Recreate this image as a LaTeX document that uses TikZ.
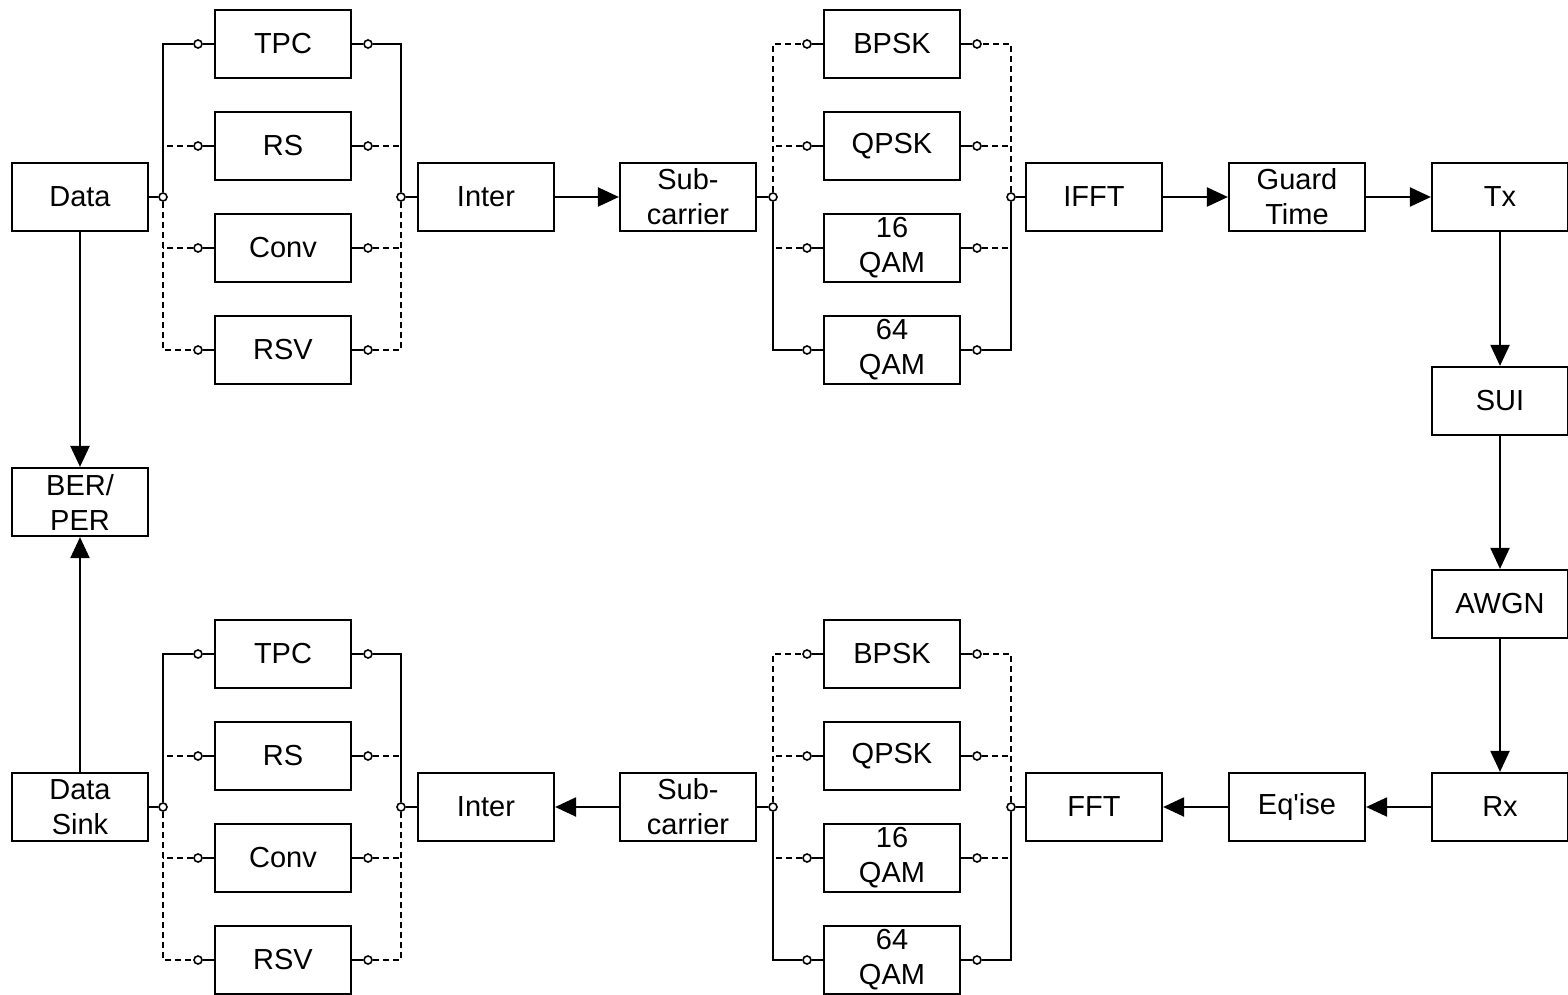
\documentclass[tikz,border=0pt]{standalone}
\usepackage{fontspec}
\setmainfont{Liberation Sans}
\usetikzlibrary{arrows.meta}

\begin{document}
\begin{tikzpicture}[x=1pt, y=-1pt, line width=2.2pt,
    blk/.style={draw, minimum width=136pt, minimum height=68pt, inner sep=0pt,
      align=center, font=\fontsize{29}{35}\selectfont},
    sw/.style={circle, draw, fill=white, line width=1.6pt, minimum size=8pt, inner sep=0pt},
    dsh/.style={dash pattern=on 6pt off 4pt},
    arr/.style={-{Triangle[length=21pt, width=19pt]}}]
  \useasboundingbox (0,0) rectangle (1568,995);

  % Sender
  \node[blk] (Data) at (80,197) {Data};
  \node[blk] (BER) at (80,502) {BER/\\PER};
  \node[blk] (tInter) at (486,197) {Inter};
  \node[blk] (tSub) at (688,197) {Sub-\\carrier};
  \node[blk] (IFFT) at (1094,197) {IFFT};
  \node[blk] (Guard) at (1297,197) {Guard\\Time};
  \node[blk] (Tx) at (1500,197) {Tx};

  % channel
  \node[blk] (SUI) at (1500,401) {SUI};
  \node[blk] (AWGN) at (1500,604) {AWGN};
  \node[blk] (Rx) at (1500,807) {Rx};

  % Receiver
  \node[blk] (Eq) at (1297,807) {Eq\textquotesingle ise};
  \node[blk] (FFT) at (1094,807) {FFT};
  \node[blk] (bSub) at (688,807) {Sub-\\carrier};
  \node[blk] (bInter) at (486,807) {Inter};
  \node[blk] (Sink) at (80,807) {Data\\Sink};

  % Kodierer oben
  \node[blk] (tTPC) at (283,44) {TPC};
  \node[blk] (tRS) at (283,146) {RS};
  \node[blk] (tConv) at (283,248) {Conv};
  \node[blk] (tRSV) at (283,350) {RSV};
  \node[sw] (tjl) at (163,197) {};
  \node[sw] (tjr) at (401,197) {};
  \node[sw] (tTPCl) at (198,44) {};
  \node[sw] (tRSl) at (198,146) {};
  \node[sw] (tConvl) at (198,248) {};
  \node[sw] (tRSVl) at (198,350) {};
  \node[sw] (tTPCr) at (368,44) {};
  \node[sw] (tRSr) at (368,146) {};
  \node[sw] (tConvr) at (368,248) {};
  \node[sw] (tRSVr) at (368,350) {};
  \draw (tTPCl) -- (tTPC) (tRSl) -- (tRS) (tConvl) -- (tConv) (tRSVl) -- (tRSV);
  \draw (tTPCr) -- (tTPC) (tRSr) -- (tRS) (tConvr) -- (tConv) (tRSVr) -- (tRSV);
  \draw (tjl) |- (tTPCl);
  \draw (tjr) |- (tTPCr);
  \draw[dsh] (tjl) |- (tRSVl);
  \draw[dsh] (tjr) |- (tRSVr);
  \draw[dsh] (tRSl) -- (tRSl -| tjl) (tConvl) -- (tConvl -| tjl);
  \draw[dsh] (tRSr) -- (tRSr -| tjr) (tConvr) -- (tConvr -| tjr);

  % Modulation oben
  \node[blk] (tBPSK) at (892,44) {BPSK};
  \node[blk] (tQPSK) at (892,146) {QPSK};
  \node[blk] (tQAMa) at (892,248) {16\\QAM};
  \node[blk] (tQAMb) at (892,350) {64\\QAM};
  \node[sw] (mjl) at (773,197) {};
  \node[sw] (mjr) at (1011,197) {};
  \node[sw] (tBPSKl) at (807,44) {};
  \node[sw] (tQPSKl) at (807,146) {};
  \node[sw] (tQAMal) at (807,248) {};
  \node[sw] (tQAMbl) at (807,350) {};
  \node[sw] (tBPSKr) at (977,44) {};
  \node[sw] (tQPSKr) at (977,146) {};
  \node[sw] (tQAMar) at (977,248) {};
  \node[sw] (tQAMbr) at (977,350) {};
  \draw (tBPSKl) -- (tBPSK) (tQPSKl) -- (tQPSK) (tQAMal) -- (tQAMa) (tQAMbl) -- (tQAMb);
  \draw (tBPSKr) -- (tBPSK) (tQPSKr) -- (tQPSK) (tQAMar) -- (tQAMa) (tQAMbr) -- (tQAMb);
  \draw[dsh] (mjl) |- (tBPSKl);
  \draw[dsh] (mjr) |- (tBPSKr);
  \draw (mjl) |- (tQAMbl);
  \draw (mjr) |- (tQAMbr);
  \draw[dsh] (tQPSKl) -- (tQPSKl -| mjl) (tQAMal) -- (tQAMal -| mjl);
  \draw[dsh] (tQPSKr) -- (tQPSKr -| mjr) (tQAMar) -- (tQAMar -| mjr);

  % Kodierer unten
  \node[blk] (bTPC) at (283,654) {TPC};
  \node[blk] (bRS) at (283,756) {RS};
  \node[blk] (bConv) at (283,858) {Conv};
  \node[blk] (bRSV) at (283,960) {RSV};
  \node[sw] (bjl) at (163,807) {};
  \node[sw] (bjr) at (401,807) {};
  \node[sw] (bTPCl) at (198,654) {};
  \node[sw] (bRSl) at (198,756) {};
  \node[sw] (bConvl) at (198,858) {};
  \node[sw] (bRSVl) at (198,960) {};
  \node[sw] (bTPCr) at (368,654) {};
  \node[sw] (bRSr) at (368,756) {};
  \node[sw] (bConvr) at (368,858) {};
  \node[sw] (bRSVr) at (368,960) {};
  \draw (bTPCl) -- (bTPC) (bRSl) -- (bRS) (bConvl) -- (bConv) (bRSVl) -- (bRSV);
  \draw (bTPCr) -- (bTPC) (bRSr) -- (bRS) (bConvr) -- (bConv) (bRSVr) -- (bRSV);
  \draw (bjl) |- (bTPCl);
  \draw (bjr) |- (bTPCr);
  \draw[dsh] (bjl) |- (bRSVl);
  \draw[dsh] (bjr) |- (bRSVr);
  \draw[dsh] (bRSl) -- (bRSl -| bjl) (bConvl) -- (bConvl -| bjl);
  \draw[dsh] (bRSr) -- (bRSr -| bjr) (bConvr) -- (bConvr -| bjr);

  % Demodulation unten
  \node[blk] (bBPSK) at (892,654) {BPSK};
  \node[blk] (bQPSK) at (892,756) {QPSK};
  \node[blk] (bQAMa) at (892,858) {16\\QAM};
  \node[blk] (bQAMb) at (892,960) {64\\QAM};
  \node[sw] (njl) at (773,807) {};
  \node[sw] (njr) at (1011,807) {};
  \node[sw] (bBPSKl) at (807,654) {};
  \node[sw] (bQPSKl) at (807,756) {};
  \node[sw] (bQAMal) at (807,858) {};
  \node[sw] (bQAMbl) at (807,960) {};
  \node[sw] (bBPSKr) at (977,654) {};
  \node[sw] (bQPSKr) at (977,756) {};
  \node[sw] (bQAMar) at (977,858) {};
  \node[sw] (bQAMbr) at (977,960) {};
  \draw (bBPSKl) -- (bBPSK) (bQPSKl) -- (bQPSK) (bQAMal) -- (bQAMa) (bQAMbl) -- (bQAMb);
  \draw (bBPSKr) -- (bBPSK) (bQPSKr) -- (bQPSK) (bQAMar) -- (bQAMa) (bQAMbr) -- (bQAMb);
  \draw[dsh] (njl) |- (bBPSKl);
  \draw[dsh] (njr) |- (bBPSKr);
  \draw (njl) |- (bQAMbl);
  \draw (njr) |- (bQAMbr);
  \draw[dsh] (bQPSKl) -- (bQPSKl -| njl) (bQAMal) -- (bQAMal -| njl);
  \draw[dsh] (bQPSKr) -- (bQPSKr -| njr) (bQAMar) -- (bQAMar -| njr);

  % Signalweg
  \draw (Data) -- (tjl);
  \draw (tjr) -- (tInter);
  \draw[arr] (tInter) -- (tSub);
  \draw (tSub) -- (mjl);
  \draw (mjr) -- (IFFT);
  \draw[arr] (IFFT) -- (Guard);
  \draw[arr] (Guard) -- (Tx);
  \draw[arr] (Tx) -- (SUI);
  \draw[arr] (SUI) -- (AWGN);
  \draw[arr] (AWGN) -- (Rx);
  \draw[arr] (Rx) -- (Eq);
  \draw[arr] (Eq) -- (FFT);
  \draw (FFT) -- (njr);
  \draw (njl) -- (bSub);
  \draw[arr] (bSub) -- (bInter);
  \draw (bInter) -- (bjr);
  \draw (bjl) -- (Sink);
  \draw[arr] (Sink) -- (BER);
  \draw[arr] (Data) -- (BER);
\end{tikzpicture}
\end{document}
